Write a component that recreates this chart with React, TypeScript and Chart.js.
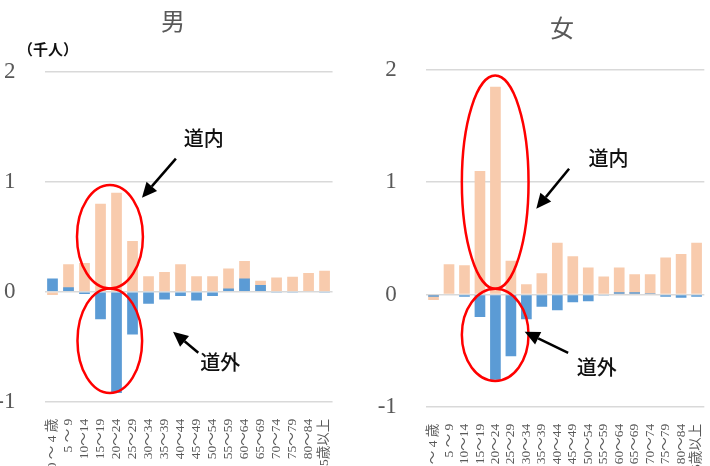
import React, { useEffect, useRef } from "react";
import { Chart, registerables } from "chart.js";

Chart.register(...registerables);

// ---- data ----
const categories = [
  "0 ～ 4 歳", "5 ～ 9", "10～14", "15～19", "20～24", "25～29", "30～34", "35～39",
  "40～44", "45～49", "50～54", "55～59", "60～64", "65～69", "70～74", "75～79",
  "80～84", "85歳以上",
];
const seriesNames = ["道外", "道内"];
const yTicks = [-1, 0, 1, 2];

const maleInside = [-0.03, 0.25, 0.26, 0.8, 0.9, 0.46, 0.14, 0.18, 0.25, 0.14, 0.14, 0.21, 0.28, 0.1, 0.13, 0.135, 0.17, 0.19];
const maleOutside = [0.12, 0.04, -0.02, -0.25, -0.92, -0.39, -0.11, -0.07, -0.04, -0.08, -0.04, 0.03, 0.12, 0.06, -0.005, -0.01, 0.0, -0.01];

const femaleInside = [-0.05, 0.27, 0.26, 1.1, 1.85, 0.3, 0.09, 0.19, 0.46, 0.34, 0.24, 0.16, 0.24, 0.18, 0.18, 0.33, 0.36, 0.46];
const femaleOutside = [-0.02, 0.0, -0.02, -0.2, -0.76, -0.55, -0.22, -0.11, -0.14, -0.07, -0.06, -0.01, 0.02, 0.02, 0.01, -0.02, -0.03, -0.02];

// ---- annotation layout (in category-index / value units) ----
type Ellipse = { x0: number; x1: number; y0: number; y1: number };
type Arrow = { fx: number; fy: number; tx: number; ty: number };
type Label = { x: number; y: number; text: string };

const maleAnno = {
  ellipses: [
    { x0: 1.53, x1: 5.65, y0: 0.97, y1: 0.03 },
    { x0: 1.56, x1: 5.6, y0: 0.03, y1: -0.92 },
  ] as Ellipse[],
  arrows: [
    { fx: 7.71, fy: 1.21, tx: 5.59, ty: 0.855 },
    { fx: 9.11, fy: -0.555, tx: 7.53, ty: -0.364 },
  ] as Arrow[],
  labels: [
    { x: 8.2, y: 1.39, text: "道内" },
    { x: 9.23, y: -0.645, text: "道外" },
  ] as Label[],
};
const femaleAnno = {
  ellipses: [
    { x0: 1.83, x1: 6.14, y0: 1.95, y1: 0.05 },
    { x0: 1.83, x1: 6.14, y0: 0.05, y1: -0.77 },
  ] as Ellipse[],
  arrows: [
    { fx: 8.76, fy: 1.12, tx: 6.64, ty: 0.764 },
    { fx: 8.7, fy: -0.52, tx: 5.89, ty: -0.332 },
  ] as Arrow[],
  labels: [
    { x: 10.01, y: 1.21, text: "道内" },
    { x: 9.26, y: -0.653, text: "道外" },
  ] as Label[],
};

const ORANGE = "#F8CBAD";
const BLUE = "#5B9BD5";
const GRAY = "#595959";
const SERIF = "'Liberation Serif', 'Noto Sans CJK JP', serif";
const SANS = "'Noto Sans CJK JP', 'Noto Sans', sans-serif";

const annoPlugin = {
  id: "annos",
  afterDatasetsDraw(chart: any, _args: any, opts: any) {
    const { ctx } = chart;
    const xs = chart.scales.x;
    const ys = chart.scales.y;
    const p0 = xs.getPixelForValue(0);
    const p1 = xs.getPixelForValue(1);
    const px = (i: number) => p0 + i * (p1 - p0);
    const py = (v: number) => ys.getPixelForValue(v);
    const anno = opts.anno;
    ctx.save();
    // ellipses
    ctx.strokeStyle = "#FF0000";
    ctx.lineWidth = 2.5;
    for (const e of anno.ellipses as Ellipse[]) {
      const l = px(e.x0), r = px(e.x1), t = py(e.y0), b = py(e.y1);
      ctx.beginPath();
      ctx.ellipse((l + r) / 2, (t + b) / 2, (r - l) / 2, (b - t) / 2, 0, 0, Math.PI * 2);
      ctx.stroke();
    }
    // arrows
    ctx.strokeStyle = "#000";
    ctx.fillStyle = "#000";
    ctx.lineWidth = 2.5;
    for (const a of anno.arrows as Arrow[]) {
      const fx = px(a.fx), fy = py(a.fy), tx = px(a.tx), ty = py(a.ty);
      const ang = Math.atan2(ty - fy, tx - fx);
      const hl = 15, hw = 7;
      const bx = tx - hl * Math.cos(ang), by = ty - hl * Math.sin(ang);
      ctx.beginPath();
      ctx.moveTo(fx, fy);
      ctx.lineTo(bx, by);
      ctx.stroke();
      ctx.beginPath();
      ctx.moveTo(tx, ty);
      ctx.lineTo(bx + hw * Math.sin(ang), by - hw * Math.cos(ang));
      ctx.lineTo(bx - hw * Math.sin(ang), by + hw * Math.cos(ang));
      ctx.closePath();
      ctx.fill();
    }
    // labels
    ctx.font = `500 20px ${SANS}`;
    ctx.textAlign = "left";
    ctx.textBaseline = "middle";
    ctx.fillStyle = "#111";
    for (const lb of anno.labels as Label[]) {
      ctx.fillText(lb.text, px(lb.x), py(lb.y));
    }
    ctx.restore();
  },
  afterDraw(chart: any, _args: any, opts: any) {
    const { ctx } = chart;
    ctx.save();
    ctx.fillStyle = GRAY;
    ctx.font = `24px ${SANS}`;
    ctx.textAlign = "center";
    ctx.textBaseline = "middle";
    ctx.fillText(opts.title, opts.titleX, opts.titleY);
    if (opts.unit) {
      ctx.fillStyle = "#111";
      ctx.font = `bold 15px ${SANS}`;
      ctx.textAlign = "left";
      ctx.fillText(opts.unit, opts.unitX, opts.unitY);
    }
    ctx.restore();
  },
};

function buildConfig(inside: number[], outside: number[], cfg: any) {
  return {
    type: "bar" as const,
    data: {
      labels: categories,
      datasets: [
        {
          label: seriesNames[0],
          data: outside,
          backgroundColor: BLUE,
          grouped: false,
          barPercentage: cfg.barPct,
          categoryPercentage: 1,
        },
        {
          label: seriesNames[1],
          data: inside,
          backgroundColor: ORANGE,
          grouped: false,
          barPercentage: cfg.barPct,
          categoryPercentage: 1,
        },
      ],
    },
    options: {
      responsive: false,
      animation: false,
      devicePixelRatio: 1,
      layout: { padding: { top: cfg.top, right: cfg.right, left: 0, bottom: 0 } },
      plugins: {
        legend: { display: false },
        tooltip: { enabled: false },
        title: { display: false },
        annos: cfg.annos,
      },
      scales: {
        x: {
          grid: { display: false },
          border: { display: false },
          ticks: {
            autoSkip: false,
            minRotation: 90,
            maxRotation: 90,
            padding: 9,
            color: GRAY,
            font: { family: SERIF, size: 13.5 },
          },
          afterFit: (s: any) => {
            s.height = cfg.xHeight;
          },
        },
        y: {
          min: -1,
          max: 2,
          afterBuildTicks: (s: any) => {
            s.ticks = yTicks.map((v) => ({ value: v }));
          },
          grid: { color: "#D9D9D9", lineWidth: 1.5, drawTicks: false },
          border: { display: false },
          ticks: {
            padding: 29,
            color: GRAY,
            font: { family: SERIF, size: 23 },
            callback: (v: any) => String(v),
          },
          afterFit: (s: any) => {
            s.width = cfg.yWidth;
          },
        },
      },
    },
    plugins: [annoPlugin],
  };
}

export default function App() {
  const leftRef = useRef<HTMLCanvasElement>(null);
  const rightRef = useRef<HTMLCanvasElement>(null);

  useEffect(() => {
    document.body.style.margin = "0";
    const c1 = new Chart(
      leftRef.current as HTMLCanvasElement,
      buildConfig(maleInside, maleOutside, {
        barPct: 0.67,
        top: 71.7,
        right: 8.5,
        xHeight: 64.3,
        yWidth: 44.5,
        annos: {
          anno: maleAnno,
          title: "男",
          titleX: 173,
          titleY: 21,
          unit: "（千人）",
          unitX: 18,
          unitY: 49,
        },
      }) as any
    );
    const c2 = new Chart(
      rightRef.current as HTMLCanvasElement,
      buildConfig(femaleInside, femaleOutside, {
        barPct: 0.69,
        top: 70,
        right: 8,
        xHeight: 59.3,
        yWidth: 70.8,
        annos: {
          anno: femaleAnno,
          title: "女",
          titleX: 207,
          titleY: 28,
        },
      }) as any
    );
    return () => {
      c1.destroy();
      c2.destroy();
    };
  }, []);

  return (
    <div style={{ position: "relative", width: 710, height: 466, overflow: "hidden", background: "#fff" }}>
      <canvas ref={leftRef} width={350} height={466} style={{ position: "absolute", left: 0, top: 0, width: 350, height: 466 }} />
      <canvas ref={rightRef} width={367} height={466} style={{ position: "absolute", left: 355, top: 0, width: 367, height: 466 }} />
    </div>
  );
}
